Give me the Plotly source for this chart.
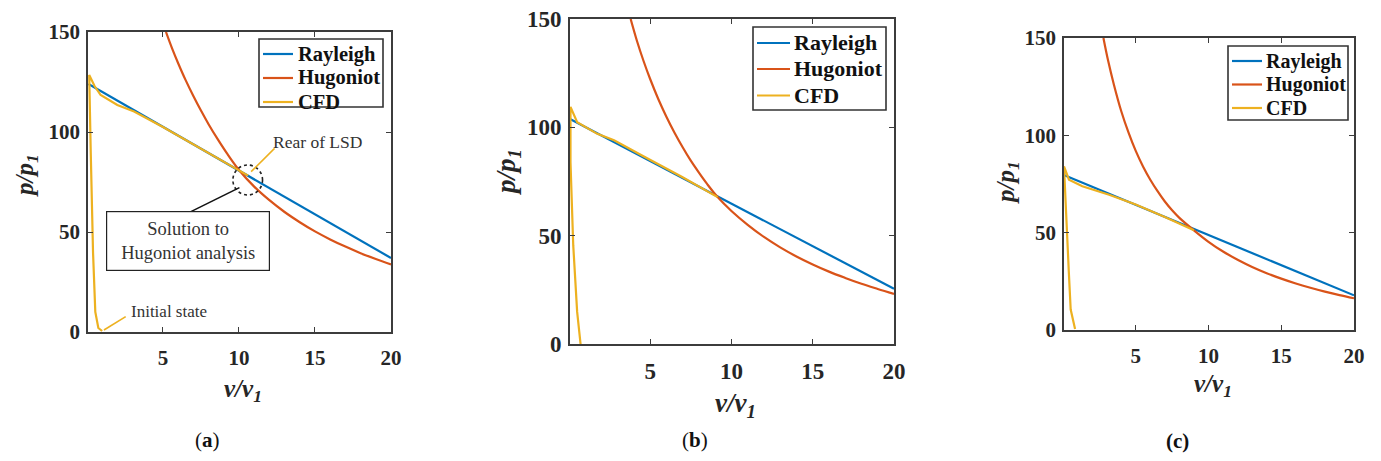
import plotly.graph_objects as go

# ---------------- data ----------------
# Panel (a)
ray_a_v = [0.1, 20]
ray_a_p = [124, 37]
hug_a_v = [5.2, 5.6, 6.0, 6.5, 7, 7.5, 8, 8.6, 9.2, 10.0, 11, 12, 13, 14, 15, 16, 17, 18, 19, 20]
hug_a_p = [150, 141.8, 134.4, 125.8, 118, 110.7, 103.9, 96.4, 89.4, 81.0, 72.7, 65.9, 60, 54.9, 50.3, 46.3, 42.7, 39.4, 36.5, 33.8]
cfd_a_v = [1.0, 0.75, 0.55, 0.4, 0.25, 0.15, 0.5, 0.9, 2.0, 3.1, 5.0, 7.5, 10.0, 10.6]
cfd_a_p = [0.5, 2, 10, 40, 90, 128.5, 123, 118.5, 113.5, 110.2, 102.5, 91.5, 80.7, 78.2]

# Panel (b)
ray_b_v = [0.1, 20]
ray_b_p = [103.7, 25.5]
hug_b_v = [3.8, 4.2, 4.6, 5.0, 5.5, 6, 6.5, 7, 7.5, 8, 8.5, 9.15, 10, 11, 12, 13, 14, 15, 16, 17, 18, 19, 20]
hug_b_p = [150, 139.6, 130.5, 122.3, 113.1, 104.9, 97.5, 90.8, 84.6, 79.1, 73.9, 67.8, 61.4, 55, 49.4, 44.6, 40.4, 36.7, 33.4, 30.5, 27.8, 25.4, 23.1]
cfd_b_v = [0.72, 0.51, 0.27, 0.1, 0.1, 0.51, 1.75, 2.78, 4.5, 7.0, 9.15]
cfd_b_p = [0, 14.8, 45.5, 84, 109.4, 102.4, 97, 94, 87, 77, 67.8]

# Panel (c)
ray_c_v = [0.1, 20]
ray_c_p = [79.5, 17.8]
hug_c_v = [2.78, 3.1, 3.5, 4, 4.5, 5, 5.5, 6, 6.5, 7, 7.5, 8, 9, 10, 11, 12, 13, 14, 15, 16, 17, 18, 19, 20]
hug_c_p = [150, 138.4, 126, 112.5, 101.5, 92, 84, 77.2, 71.3, 66, 61.5, 57.6, 51.2, 45.3, 40.3, 36.1, 32.4, 29.2, 26.4, 23.9, 21.7, 19.7, 17.9, 16.3]
cfd_c_v = [0.83, 0.53, 0.4, 0.25, 0.12, 0.07, 0.41, 1.33, 3.17, 5.0, 7.0, 9.0]
cfd_c_p = [0.5, 10.5, 30, 55, 78, 84, 77.2, 73.8, 69.5, 64.5, 58, 51.2]

x_ticks = [5, 10, 15, 20]
y_ticks = [0, 50, 100, 150]
series_names = ["Rayleigh", "Hugoniot", "CFD"]
panel_labels = ["(<b>a</b>)", "(<b>b</b>)", "<b>(c)</b>"]

# ---------------- styling ----------------
W, H = 1381, 461
OFF = 8                       # page body margin of the html page
FW, FH = W - 2 * OFF, H - 2 * OFF
BLUE, RED, YEL = "#0072BD", "#D95319", "#EDB120"
COLORS = [BLUE, RED, YEL]
SERIF = "Liberation Serif"
AX = "#3c3c3c"
TXT = "#262626"


def px_x(p):
    return (p - OFF) / FW


def px_y(p):
    return 1 - (p - OFF) / FH


# plot-area pixel boxes (left, right, top, bottom) in window pixels
boxes = [(88, 391, 32, 332), (570, 894, 19, 344), (1064, 1354, 38, 330)]
tick_sizes = [21, 23, 21]
legend_sizes = [20.5, 22, 20]
# legend box (left, right, top, bottom), line x0, x1, text x, row centers
legend_boxes = [
    (259, 383, 39, 107, 263, 293, 296, [54, 78, 102]),
    (753, 886, 27, 110, 757, 790, 792, [43, 69, 95.5]),
    (1228, 1348, 46, 120, 1232, 1262, 1264, [61, 84.5, 108]),
]
ytitle_pos = [(26, 176), (508, 172), (1007, 182)]
xtitle_pos = [(243, 390), (735, 405), (1213, 385)]
label_pos = [(207, 440), (695, 440), (1177, 441)]

data = [
    (ray_a_v, ray_a_p, hug_a_v, hug_a_p, cfd_a_v, cfd_a_p),
    (ray_b_v, ray_b_p, hug_b_v, hug_b_p, cfd_b_v, cfd_b_p),
    (ray_c_v, ray_c_p, hug_c_v, hug_c_p, cfd_c_v, cfd_c_p),
]

fig = go.Figure()
annotations = []
shapes = []
layout = {}

for i, (rv, rp, hv, hp, cv, cp) in enumerate(data):
    sfx = "" if i == 0 else str(i + 1)
    xa, ya = "x" + sfx, "y" + sfx
    for name, vv, pp, col, shp in [(series_names[0], rv, rp, BLUE, "linear"),
                                   (series_names[1], hv, hp, RED, "spline"),
                                   (series_names[2], cv, cp, YEL, "linear")]:
        fig.add_trace(go.Scatter(x=vv, y=pp, mode="lines", name=name,
                                 line=dict(color=col, width=2.2, shape=shp),
                                 xaxis=xa, yaxis=ya, showlegend=False))
    l, r, t, b = boxes[i]
    fs = tick_sizes[i]
    tickfont = dict(family=SERIF, size=fs, color=TXT, weight="bold")
    layout["xaxis" + sfx] = dict(
        domain=[px_x(l), px_x(r)], anchor=ya, range=[0.07, 20],
        tickvals=x_ticks, ticks="inside", ticklen=5, tickwidth=1.2, tickcolor=AX,
        showline=True, linecolor=AX, linewidth=1.6, mirror="ticks",
        showgrid=False, zeroline=False, tickfont=tickfont,
        ticklabelstandoff=6, ticklabeloverflow="allow",
    )
    layout["yaxis" + sfx] = dict(
        domain=[px_y(b), px_y(t)], anchor=xa, range=[0, 150],
        tickvals=y_ticks, ticks="inside", ticklen=5, tickwidth=1.2, tickcolor=AX,
        showline=True, linecolor=AX, linewidth=1.6, mirror="ticks",
        showgrid=False, zeroline=False, tickfont=tickfont,
        ticklabelstandoff=2, ticklabeloverflow="allow",
    )

    # legend drawn as box + sample lines + text
    bl, br, bt, bb, lx0, lx1, tx0, rows = legend_boxes[i]
    shapes.append(dict(type="rect", xref="paper", yref="paper",
                       x0=px_x(bl), x1=px_x(br), y0=px_y(bb), y1=px_y(bt),
                       line=dict(color="#333", width=1.6), fillcolor="white",
                       layer="above"))
    for k, name in enumerate(series_names):
        shapes.append(dict(type="line", xref="paper", yref="paper",
                           x0=px_x(lx0), x1=px_x(lx1), y0=px_y(rows[k]), y1=px_y(rows[k]),
                           line=dict(color=COLORS[k], width=2.2), layer="above"))
        annotations.append(dict(
            xref="paper", yref="paper", x=px_x(tx0), y=px_y(rows[k]),
            xanchor="left", yanchor="middle", showarrow=False,
            text="<b>" + name + "</b>",
            font=dict(family=SERIF, size=legend_sizes[i], color="#111")))

    tx, ty = ytitle_pos[i]
    annotations.append(dict(
        xref="paper", yref="paper", x=px_x(tx), y=px_y(ty), showarrow=False,
        xanchor="center", yanchor="middle",
        textangle=-90, text="<b><i>p/p</i></b><sub><b><i>1</i></b></sub>",
        font=dict(family=SERIF, size=fs + 4, color=TXT)))
    tx, ty = xtitle_pos[i]
    annotations.append(dict(
        xref="paper", yref="paper", x=px_x(tx), y=px_y(ty), showarrow=False,
        xanchor="center", yanchor="middle",
        text="<b><i>v/v</i></b><sub><b><i>1</i></b></sub>",
        font=dict(family=SERIF, size=fs + 4, color=TXT)))
    tx, ty = label_pos[i]
    annotations.append(dict(
        xref="paper", yref="paper", x=px_x(tx), y=px_y(ty), showarrow=False,
        xanchor="center", yanchor="middle",
        text=panel_labels[i], font=dict(family=SERIF, size=21, color="#111")))

# annotations inside panel (a)
annotations.append(dict(xref="x", yref="y", x=15.15, y=95.2, showarrow=False,
                        xanchor="center", yanchor="middle",
                        text="Rear of LSD",
                        font=dict(family=SERIF, size=17.5, color="#333")))
annotations.append(dict(xref="x", yref="y", x=5.4, y=10.2, showarrow=False,
                        xanchor="center", yanchor="middle",
                        text="Initial state",
                        font=dict(family=SERIF, size=17, color="#333")))
annotations.append(dict(xref="x", yref="y", x=6.67, y=45.5, showarrow=False,
                        xanchor="center", yanchor="middle",
                        text="Solution to<br>Hugoniot analysis",
                        width=152, height=48, align="center",
                        font=dict(family=SERIF, size=18.5, color="#333"),
                        bordercolor="#222", borderwidth=1.2, borderpad=5,
                        bgcolor="white"))

shapes += [
    dict(type="circle", xref="x", yref="y", x0=9.6, x1=11.55, y0=68.5, y1=83.5,
         line=dict(color="#222", width=1.6, dash="dot")),
    dict(type="line", xref="x", yref="y", x0=12.34, y0=91.8, x1=10.8, y1=80.2,
         line=dict(color=YEL, width=1.6)),
    dict(type="line", xref="x", yref="y", x0=6.84, y0=60.2, x1=10.03, y1=72.2,
         line=dict(color="#111", width=1.6)),
    dict(type="line", xref="x", yref="y", x0=1.12, y0=1, x1=2.55, y1=7.7,
         line=dict(color=YEL, width=1.6)),
]

fig.update_layout(
    width=FW, height=FH, margin=dict(l=0, r=0, t=0, b=0, autoexpand=False),
    paper_bgcolor="white", plot_bgcolor="white", showlegend=False,
    annotations=annotations, shapes=shapes, **layout,
)

fig.write_html("out.html")
